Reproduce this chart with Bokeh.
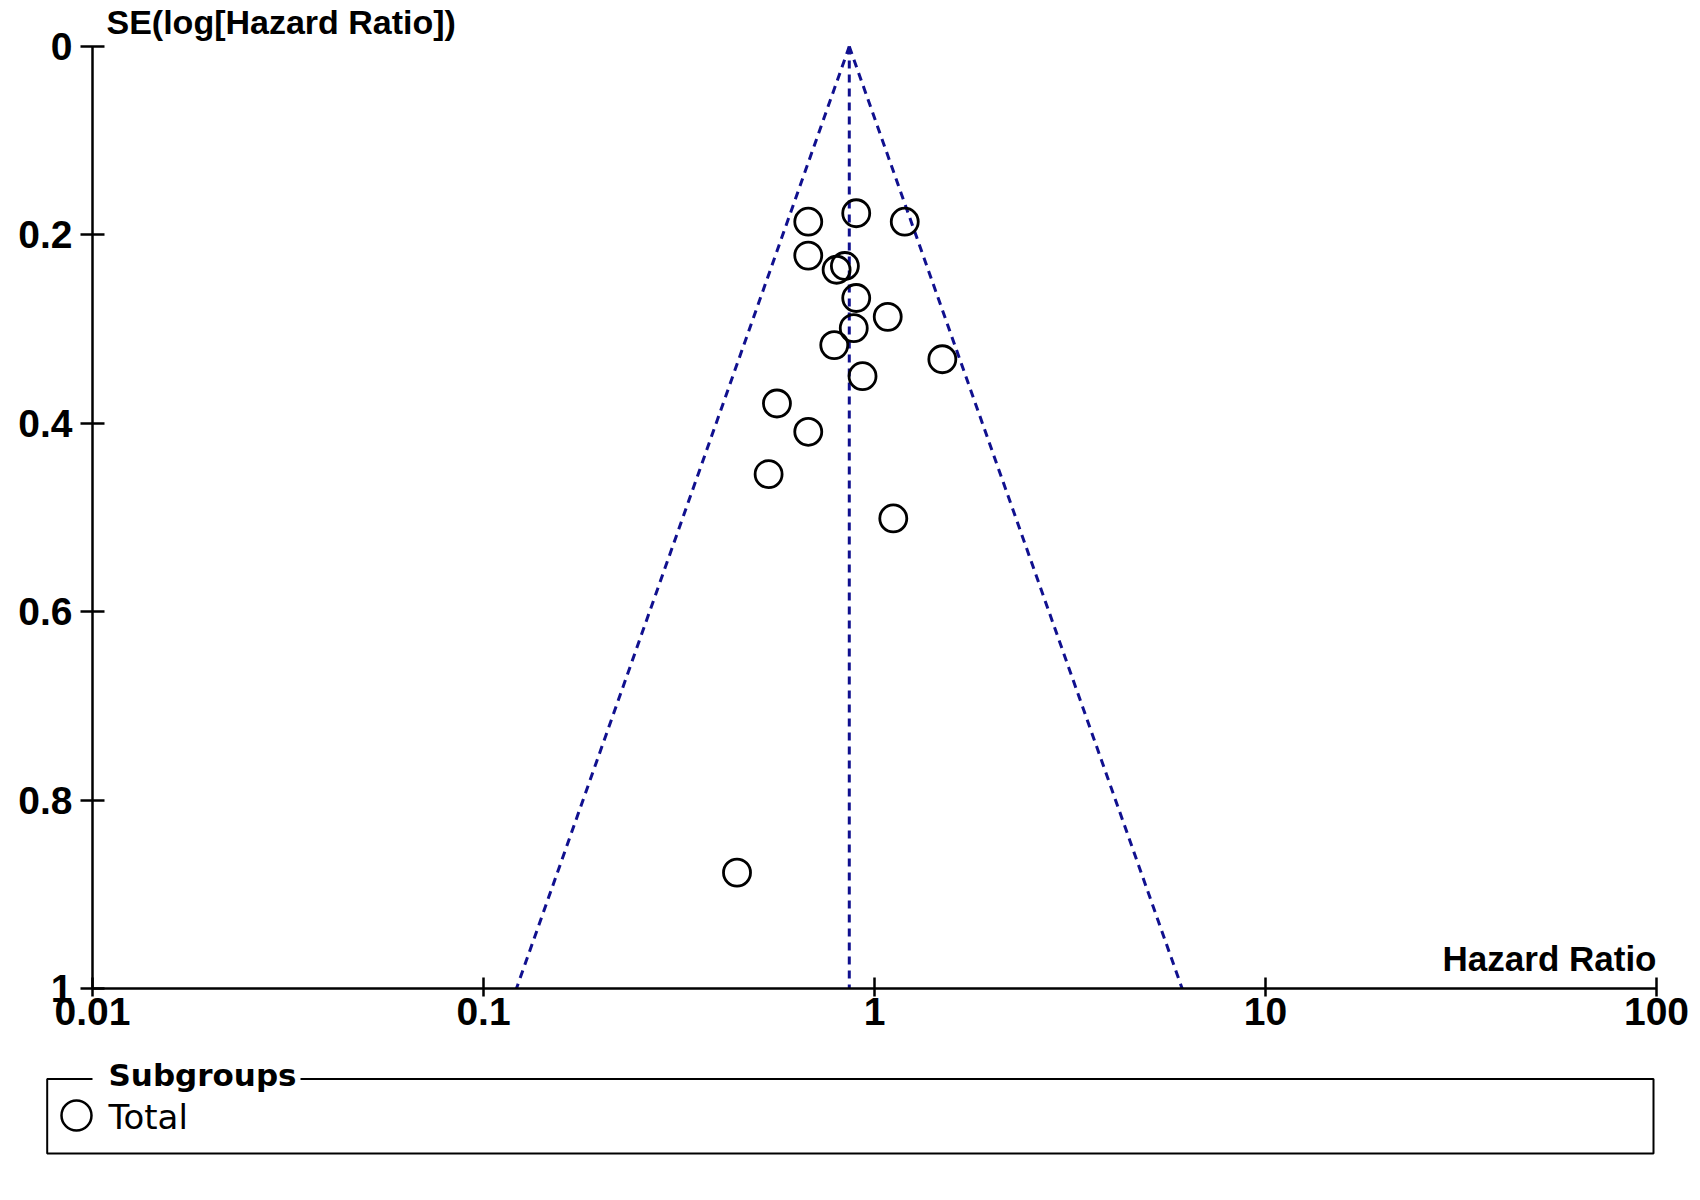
import numpy as np
from bokeh.plotting import figure
from bokeh.models import Range1d, FixedTicker, CustomJSTickFormatter, ColumnDataSource
from bokeh.embed import file_html
from bokeh.resources import INLINE
from bokeh.core.properties import value

# ---------------- data ----------------
hazard_ratio = [0.677, 0.898, 1.195, 0.677, 0.800, 0.840, 0.898, 1.081, 0.885,
                0.789, 1.491, 0.932, 0.563, 0.677, 0.536, 1.117, 0.445]
se_log_hr = [0.186, 0.177, 0.186, 0.222, 0.237, 0.233, 0.267, 0.287, 0.299,
             0.317, 0.332, 0.350, 0.379, 0.409, 0.454, 0.501, 0.877]
pooled_hr = 0.862
funnel_se = [0.0, 1.0]

x_ticks = [0.01, 0.1, 1, 10, 100]
x_tick_labels = ["0.01", "0.1", "1", "10", "100"]
y_ticks = [0, 0.2, 0.4, 0.6, 0.8, 1.0]
y_tick_labels = ["0", "0.2", "0.4", "0.6", "0.8", "1"]

y_title = "SE(log[Hazard Ratio])"
x_title = "Hazard Ratio"
legend_title = "Subgroups"
legend_item = "Total"

BOLD_FONT = "Liberation Sans"
LEG_FONT = "DejaVu Sans"
FUNNEL_COLOR = "#10108f"

# ---------------- layout geometry (canvas pixels) ----------------
W, H = 1700, 1190
AX_L, AX_R, AX_T, AX_B = 92, 1656, 46, 988   # where 0.01/100 and SE 0/1 sit

LX0, LX1 = np.log10(x_ticks[0]), np.log10(x_ticks[-1])

def px_x(px):
    """canvas pixel -> hazard ratio (layout helper)"""
    return 10 ** (LX0 + (px - AX_L) / (AX_R - AX_L) * (LX1 - LX0))

def px_y(py):
    """canvas pixel -> SE (layout helper)"""
    return y_ticks[0] + (py - AX_T) / (AX_B - AX_T) * (y_ticks[-1] - y_ticks[0])

# frame covers the whole canvas; axes are pinned with fixed_location
p = figure(width=W, height=H, x_axis_type="log",
           x_range=Range1d(px_x(0), px_x(W)), y_range=Range1d(px_y(H), px_y(0)),
           output_backend="svg", toolbar_location=None,
           min_border=0, min_border_left=0, min_border_right=0,
           min_border_top=0, min_border_bottom=0)
p.outline_line_color = None
p.xgrid.grid_line_color = None
p.ygrid.grid_line_color = None
p.background_fill_color = "white"
p.border_fill_color = "white"

# funnel (pseudo 95% confidence limits)
se_arr = np.array(funnel_se)
lo = np.exp(np.log(pooled_hr) - 1.96 * se_arr)
hi = np.exp(np.log(pooled_hr) + 1.96 * se_arr)
for xs in (lo, hi, [pooled_hr, pooled_hr]):
    p.line(xs, funnel_se, line_color=FUNNEL_COLOR, line_width=3, line_dash="8 6")

src = ColumnDataSource(dict(hr=hazard_ratio, se=se_log_hr))
p.scatter("hr", "se", source=src, marker="circle", size=27,
          fill_color=None, line_color="black", line_width=2.8)

# axes
for ax in (p.xaxis[0], p.yaxis[0]):
    ax.axis_line_color = "black"
    ax.axis_line_width = 2.5
    ax.major_tick_line_color = "black"
    ax.major_tick_line_width = 2.5
    ax.minor_tick_line_color = None
    ax.major_label_text_font = BOLD_FONT
    ax.major_label_text_font_style = "bold"
    ax.major_label_text_font_size = "39px"
    ax.major_label_text_color = "black"

p.xaxis.fixed_location = y_ticks[-1]
p.xaxis.bounds = (x_ticks[0], x_ticks[-1])
p.xaxis.ticker = FixedTicker(ticks=x_ticks)
p.xaxis.formatter = CustomJSTickFormatter(args=dict(t=x_ticks, l=x_tick_labels), code="""
let best = 0, d = Infinity;
for (let i = 0; i < t.length; i++) {
  const e = Math.abs(Math.log10(t[i]) - Math.log10(tick));
  if (e < d) { d = e; best = i; }
}
return l[best];
""")
p.xaxis.major_tick_in = 11
p.xaxis.major_tick_out = 8
p.xaxis.major_label_standoff = 1

p.yaxis.fixed_location = x_ticks[0]
p.yaxis.bounds = (y_ticks[0], y_ticks[-1])
p.yaxis.ticker = FixedTicker(ticks=y_ticks)
p.yaxis.formatter = CustomJSTickFormatter(args=dict(t=y_ticks, l=y_tick_labels), code="""
let best = 0, d = Infinity;
for (let i = 0; i < t.length; i++) {
  const e = Math.abs(t[i] - tick);
  if (e < d) { d = e; best = i; }
}
return l[best];
""")
p.yaxis.major_tick_in = 12
p.yaxis.major_tick_out = 12
p.yaxis.major_label_standoff = 8

# axis titles
p.text(x=[px_x(106)], y=[px_y(21)], text=[y_title], text_font=value(BOLD_FONT),
       text_font_style="bold", text_font_size="34px", text_baseline="middle",
       text_align="left", text_color="black")
p.text(x=[x_ticks[-1]], y=[px_y(958)], text=[x_title], text_font=value(BOLD_FONT),
       text_font_style="bold", text_font_size="35px", text_baseline="middle",
       text_align="right", text_color="black")

# ---------------- legend box (below the axis) ----------------
bx = [92, 46.7, 46.7, 1653, 1653, 300]
by = [1078.5, 1078.5, 1153, 1153, 1078.5, 1078.5]
p.line([px_x(v) for v in bx], [px_y(v) for v in by], line_color="black",
       line_width=2)
p.text(x=[px_x(108)], y=[px_y(1074)], text=[legend_title], text_font=value(LEG_FONT),
       text_font_style="bold", text_font_size="31px", text_baseline="alphabetic",
       text_align="left", text_color="black")
p.scatter(x=[px_x(76)], y=[px_y(1115)], marker="circle", size=30, fill_color=None,
          line_color="black", line_width=2.5)
p.text(x=[px_x(108)], y=[px_y(1116)], text=[legend_item], text_font=value(LEG_FONT),
       text_font_size="34px", text_baseline="alphabetic", text_align="left",
       text_color="black")

open("out.html", "w").write(file_html(p, INLINE))
